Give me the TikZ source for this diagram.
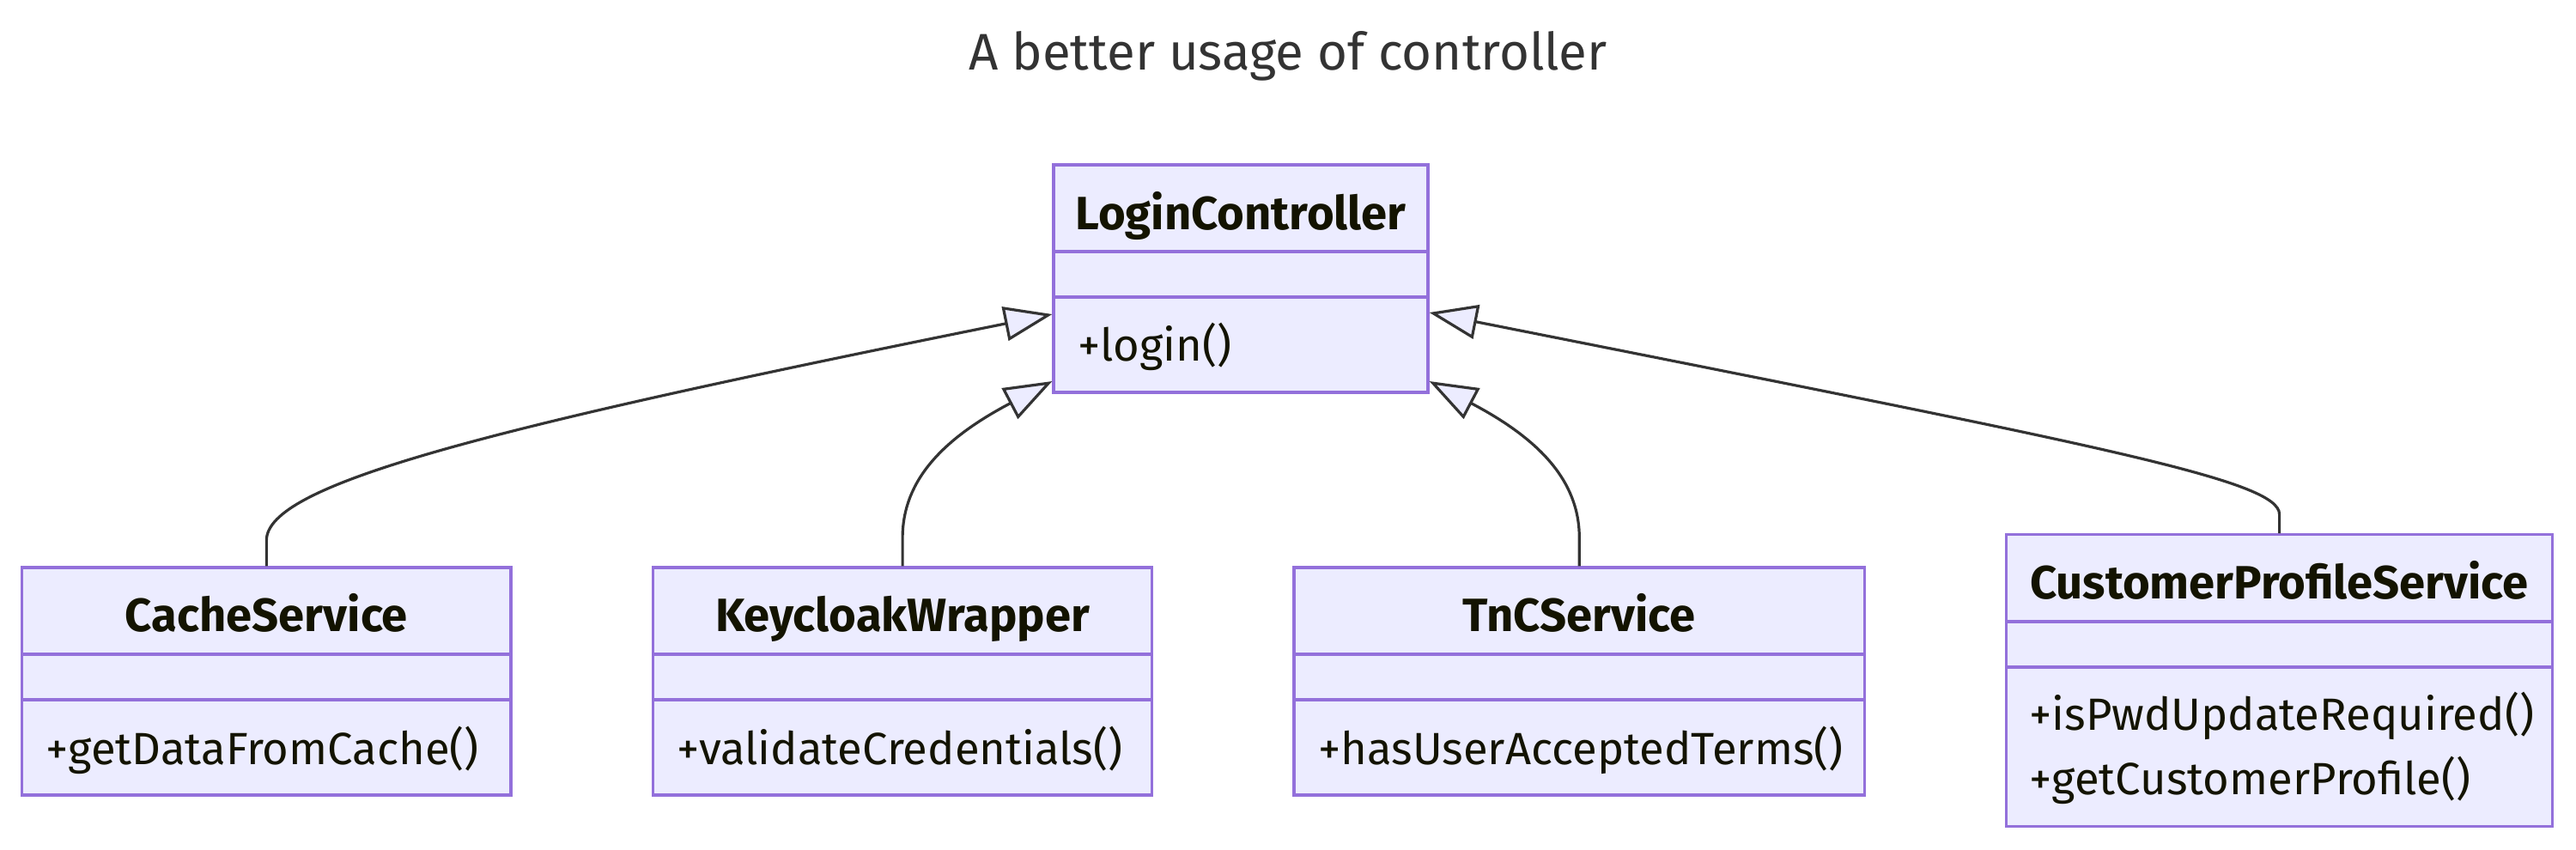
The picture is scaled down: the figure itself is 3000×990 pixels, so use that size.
\documentclass[tikz,border=0pt]{standalone}
\usepackage{fontspec}
\setmainfont{Fira Sans}
\usetikzlibrary{arrows.meta,fit,calc}
\definecolor{classfill}{HTML}{ECECFF}
\definecolor{classborder}{HTML}{9370DB}
\definecolor{linecol}{HTML}{333333}
\definecolor{txtcol}{HTML}{131300}
\definecolor{titlecol}{HTML}{333333}
\tikzset{
  cls/.style={draw=classborder, fill=classfill, line width=1.6pt, inner sep=0pt},
  divider/.style={draw=classborder, line width=1.6pt},
  clsname/.style={anchor=base, inner sep=0pt, text=txtcol, font=\fontsize{27.2pt}{33pt}\selectfont\bfseries},
  clsmeth/.style={anchor=base west, inner sep=0pt, text=txtcol, font=\fontsize{26.3pt}{33pt}\selectfont},
  diagtitle/.style={anchor=base, inner sep=0pt, text=titlecol, font=\fontsize{30pt}{36pt}\selectfont},
  rel/.style={draw=linecol, line width=1.6pt, -{Triangle[length=28pt, width=20pt, fill=classfill]}},
}
\begin{document}
\begin{tikzpicture}[x=0.5pt, y=-0.5pt]
\useasboundingbox (0,0) rectangle (3000,990);

\node[diagtitle] (title) at (1500,82) {A better usage of controller};

% LoginController
\node[cls, fit={(1227,192) (1663,457)}] (login) {};
\draw[divider] (login.west |- 0,293) -- (login.east |- 0,293);
\draw[divider] (login.west |- 0,346) -- (login.east |- 0,346);
\node[clsname] (loginname) at (1445,267) {LoginController};
\node[clsmeth] (loginm1) at (1255,420) {+login()};

% CacheService
\node[cls, fit={(25.7,661) (595,926)}] (cache) {};
\draw[divider] (cache.west |- 0,762) -- (cache.east |- 0,762);
\draw[divider] (cache.west |- 0,815) -- (cache.east |- 0,815);
\node[clsname] (cachename) at (310.35,735) {CacheService};
\node[clsmeth] (cachem1) at (53,890) {+getDataFromCache()};

% KeycloakWrapper
\node[cls, fit={(760.4,661) (1341.8,926)}] (keycloak) {};
\draw[divider] (keycloak.west |- 0,762) -- (keycloak.east |- 0,762);
\draw[divider] (keycloak.west |- 0,815) -- (keycloak.east |- 0,815);
\node[clsname] (keycloakname) at (1051.1,735) {KeycloakWrapper};
\node[clsmeth] (keycloakm1) at (788,890) {+validateCredentials()};

% TnCService
\node[cls, fit={(1507,661) (2171.6,926)}] (tnc) {};
\draw[divider] (tnc.west |- 0,762) -- (tnc.east |- 0,762);
\draw[divider] (tnc.west |- 0,815) -- (tnc.east |- 0,815);
\node[clsname] (tncname) at (1839.3,735) {TnCService};
\node[clsmeth] (tncm1) at (1535,890) {+hasUserAcceptedTerms()};

% CustomerProfileService
\node[cls, fit={(2336.5,622.7) (2972.7,962.7)}] (cps) {};
\draw[divider] (cps.west |- 0,724) -- (cps.east |- 0,724);
\draw[divider] (cps.west |- 0,777) -- (cps.east |- 0,777);
\node[clsname] (cpsname) at (2654.6,697.3) {CustomerProfileService};
\node[clsmeth] (cpsm1) at (2363,850) {+isPwdUpdateRequired()};
\node[clsmeth] (cpsm2) at (2363,925) {+getCustomerProfile()};

% Connectors
\draw[rel] (cache.north) -- ++(0,-30) .. controls +(0,-65) and (560,500) .. (login.west |- 0,366);
\draw[rel] (keycloak.north) -- ++(0,-33) .. controls +(0,-68) and (1100,510) .. (login.west |- 0,444);
\draw[rel] (tnc.north) -- ++(0,-33) .. controls +(0,-68) and (1790,510) .. (login.east |- 0,444);
\draw[rel] (cps.north) -- ++(0,-22) .. controls +(0,-40) and (2450,520) .. (login.east |- 0,364);
\end{tikzpicture}
\end{document}
